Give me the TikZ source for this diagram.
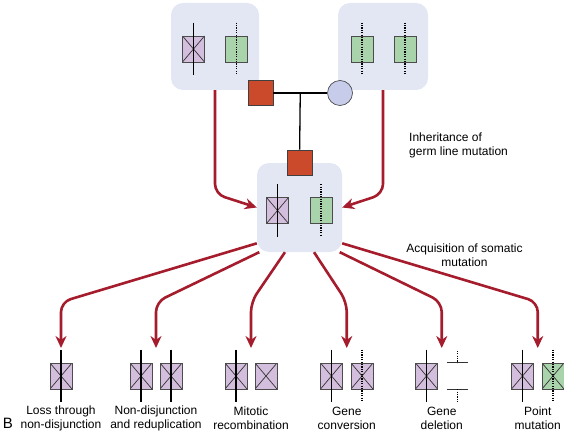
\documentclass[tikz,border=0pt]{standalone}
\usepackage{fontspec}
\setmainfont{Liberation Sans}
\usetikzlibrary{arrows.meta, positioning, calc}

\definecolor{panelbg}{HTML}{E3E7F4}
\definecolor{genepurple}{HTML}{D4BEDD}
\definecolor{genegreen}{HTML}{A9D3AA}
\definecolor{malered}{HTML}{CC4A2C}
\definecolor{femaleblue}{HTML}{C6CCEA}
\definecolor{arrowred}{HTML}{A51D2D}

\begin{document}
\begin{tikzpicture}[
    x=1pt, y=-1pt,
    panel/.style={fill=panelbg, rounded corners=12pt, inner sep=0pt},
    gene/.style={draw=black!70, line width=0.7pt, minimum width=22pt,
                 minimum height=26pt, inner sep=0pt},
    pgene/.style={gene, fill=genepurple},
    ggene/.style={gene, fill=genegreen},
    xmark/.style={path picture={
        \draw[line width=0.7pt, black!80]
          (path picture bounding box.north west) -- (path picture bounding box.south east)
          (path picture bounding box.south west) -- (path picture bounding box.north east);}},
    solidchr/.style={line width=1.5pt},
    dotchr/.style={line width=1.3pt, dash pattern=on 1.2pt off 1.2pt},
    male/.style={draw=black!75, fill=malered, line width=0.6pt,
                 minimum size=25pt, inner sep=0pt},
    female/.style={circle, draw=black!75, fill=femaleblue, line width=0.6pt,
                   minimum size=25pt, inner sep=0pt},
    ped/.style={line width=1.3pt},
    arr/.style={draw=arrowred, line width=2.6pt, rounded corners=10pt,
                -{Stealth[length=12pt, width=11pt]}},
    lab/.style={font=\fontsize{12}{14}\selectfont, align=center, inner sep=0pt}
  ]
  \useasboundingbox (0,0) rectangle (564,433);

  % cells
  \node[panel, minimum width=88pt, minimum height=87pt] (top1) at (215,46.5) {};
  \node[panel, minimum width=90pt, minimum height=87pt] (top2) at (383,46.5) {};
  \node[panel, minimum width=85pt, minimum height=89pt] (mid) at (299.5,207.5) {};

  % inheritance arrows
  \coordinate (kink) at (0,194);
  \draw[arr] (top1.south) -- (top1.south |- kink) -- (mid.west);
  \draw[arr] (top2.south) -- (top2.south |- kink) -- (mid.east);

  % pedigree
  \node[male] (father) at (260.5,93) {};
  \node[female] (mother) at (340,93) {};
  \node[male] (child) at (299.5,162.5) {};
  \draw[ped] (father) -- (mother);
  \coordinate (marr) at ($(father.east)!0.5!(mother.west)$);
  \draw[ped] (marr) -- (child);

  % chromosomes in the cells
  \node[pgene, xmark] (f1) at (193.5,49) {};
  \node[ggene] (f2) at (236.5,49) {};
  \node[ggene] (m1) at (362,49) {};
  \node[ggene] (m2) at (405,49) {};
  \node[pgene, xmark] (k1) at (277.5,210.5) {};
  \node[ggene] (k2) at (321,210.5) {};

  % somatic outcomes
  \foreach \n/\x/\kind in {1/61/pgene, 2/141/pgene, 3/171/pgene, 4/236/pgene,
                           5/266/pgene, 6/331.5/pgene, 7/362/pgene,
                           8/426.5/pgene, 9/522.5/pgene, 10/553/ggene}
    \node[\kind, xmark] (b\n) at (\x,376) {};

  \foreach \g/\s in {f1/solidchr, f2/dotchr, m1/dotchr, m2/dotchr,
                     k1/solidchr, k2/dotchr, b1/solidchr, b2/solidchr,
                     b3/solidchr, b4/solidchr, b6/solidchr, b7/dotchr,
                     b8/solidchr, b9/solidchr, b10/dotchr}
    \draw[\s] ([yshift=13pt]\g.north) -- ([yshift=-13pt]\g.south);

  % deleted segment
  \node[minimum width=21pt, minimum height=26pt, inner sep=0pt] (gap) at (457.5,376) {};
  \draw[line width=0.8pt, black!80] (gap.north west) -- (gap.north east)
    (gap.south west) -- (gap.south east);
  \draw[dotchr] ([yshift=12pt]gap.north) -- (gap.north)
    (gap.south) -- ([yshift=-13pt]gap.south);

  % acquisition arrows
  \coordinate (t1) at (61,348);
  \coordinate (t2) at (156,348);
  \coordinate (t3) at (251,348);
  \coordinate (t4) at (346.75,348);
  \coordinate (t5) at (441.75,348);
  \coordinate (t6) at (537.75,348);
  \coordinate (fan) at (0,302);
  \foreach \a/\t in {220/1, 228/2, 252/3, 288/4, 312/5, 320/6}
    \draw[arr] (mid.\a) -- (t\t |- fan) -- (t\t);

  % labels
  \coordinate (labrow) at (0,418);
  \foreach \t/\txt in {1/{Loss through\\non-disjunction},
                       2/{Non-disjunction\\and reduplication},
                       3/{Mitotic\\recombination},
                       4/{Gene\\conversion},
                       5/{Gene\\deletion},
                       6/{Point\\mutation}}
    \node[lab] (l\t) at (t\t |- labrow) {\txt};

  \node[lab, align=left, anchor=west] (inh) at (409,145.5)
    {Inheritance of\\germ line mutation};
  \node[lab] (acq) at (464.5,255.5) {Acquisition of somatic\\mutation};
  \node[font=\fontsize{15}{15}\selectfont, inner sep=0pt] (panelB) at (8,423) {B};
\end{tikzpicture}
\end{document}
